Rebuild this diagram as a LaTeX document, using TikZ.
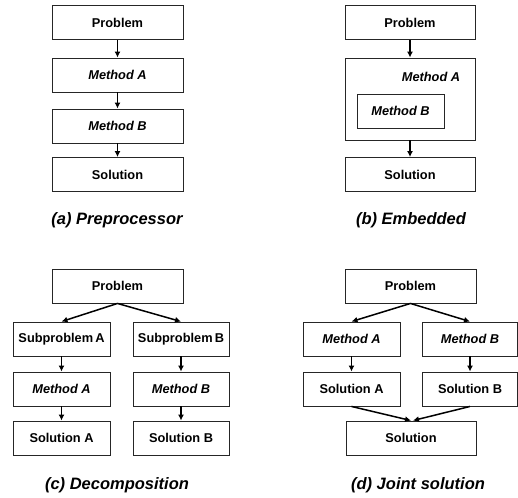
\documentclass[tikz,border=0pt]{standalone}
\usepackage{fontspec}
\setmainfont{Liberation Sans}
\usetikzlibrary{arrows.meta}
\begin{document}
\begin{tikzpicture}[x=1pt,y=-1pt,
  box/.style={draw=black!85,line width=0.9pt,rectangle,inner sep=0pt,minimum height=34pt,font=\fontsize{12.8}{14}\selectfont\bfseries},
  wide/.style={box,minimum width=131pt},
  narrow/.style={box,minimum width=97pt},
  meth/.style={font=\fontsize{12.8}{14}\selectfont\bfseries\itshape},
  captxt/.style={font=\fontsize{16.5}{19}\selectfont\bfseries\itshape},
  arr/.style={-{Latex[length=6pt,width=6pt]},line width=1.5pt}]
\useasboundingbox (0,0) rectangle (518,497);
% (a)
\node[wide] (aP) at (117.5,22.5) {Problem};
\node[wide,meth] (aA) at (117.5,75) {Method A};
\node[wide,meth] (aB) at (117.5,126) {Method B};
\node[wide] (aS) at (117.5,174.5) {Solution};
\draw[arr] (aP) -- (aA);
\draw[arr] (aA) -- (aB);
\draw[arr] (aB) -- (aS);
\node[captxt] (acap) at (117,220) {(a) Preprocessor};
% (b)
\node[wide,minimum width=130pt] (bP) at (410,22.5) {Problem};
\node[box,minimum width=130pt,minimum height=82pt] (bA) at (410,99) {};
\node[meth] (bAl) at (431,77) {Method A};
\node[box,meth,minimum width=87pt] (bB) at (400.5,111) {Method B};
\node[wide,minimum width=130pt] (bS) at (410,174.5) {Solution};
\draw[arr] (bP) -- (bA);
\draw[arr] (bA) -- (bS);
\node[captxt] (bcap) at (411,220) {(b) Embedded};
% (c)
\node[wide] (cP) at (117.5,286) {Problem};
\node[narrow] (cSA) at (61.5,339) {Subproblem\,A};
\node[narrow,minimum width=96pt] (cSB) at (181,339) {Subproblem\,B};
\node[narrow,meth] (cMA) at (61.5,389) {Method A};
\node[narrow,meth,minimum width=96pt] (cMB) at (181,389) {Method B};
\node[narrow] (cLA) at (61.5,438) {Solution A};
\node[narrow,minimum width=96pt] (cLB) at (181,438) {Solution B};
\draw[arr] (cP.south) -- (cSA.north);
\draw[arr] (cP.south) -- (cSB.north);
\draw[arr] (cSA) -- (cMA);
\draw[arr] (cSB) -- (cMB);
\draw[arr] (cMA) -- (cLA);
\draw[arr] (cMB) -- (cLB);
\node[captxt] (ccap) at (117,485) {(c) Decomposition};
% (d)
\node[wide] (dP) at (410.5,286) {Problem};
\node[narrow,meth] (dMA) at (351.5,339) {Method A};
\node[narrow,meth,minimum width=95pt] (dMB) at (470,339) {Method B};
\node[narrow] (dLA) at (351.5,389) {Solution A};
\node[narrow,minimum width=95pt] (dLB) at (470,389) {Solution B};
\node[wide,minimum width=130pt] (dS) at (411,438) {Solution};
\draw[arr] (dP.south) -- (dMA.north);
\draw[arr] (dP.south) -- (dMB.north);
\draw[arr] (dMA) -- (dLA);
\draw[arr] (dMB) -- (dLB);
\draw[arr] (dLA.south) -- ([xshift=0pt]dS.north);
\draw[arr] (dLB.south) -- ([xshift=2pt]dS.north);
\node[captxt] (dcap) at (418,485) {(d) Joint solution};
\end{tikzpicture}
\end{document}
